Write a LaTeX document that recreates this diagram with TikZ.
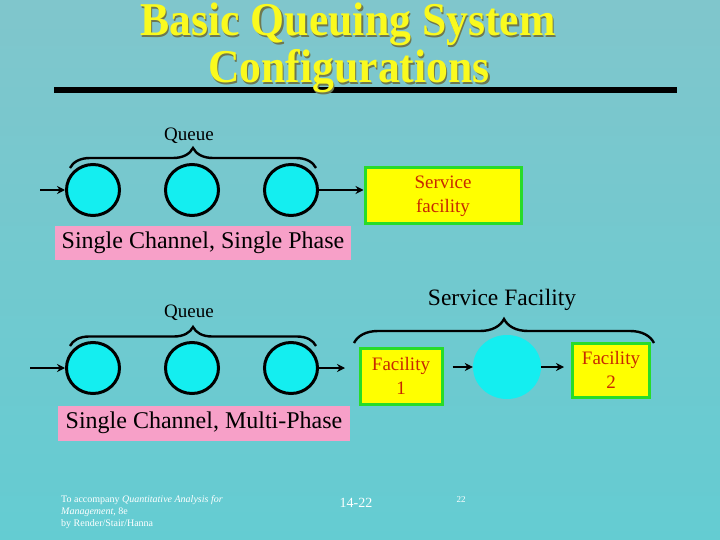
\documentclass[tikz,border=0pt]{standalone}
\usepackage{fontspec}
\setmainfont{Liberation Serif}
\usetikzlibrary{positioning,shapes.geometric,decorations.pathreplacing,arrows.meta}

\definecolor{bgtop}{RGB}{128,198,204}
\definecolor{bgmid}{RGB}{140,214,220}
\definecolor{bgbot}{RGB}{100,204,210}
\definecolor{qcyan}{RGB}{20,238,240}
\definecolor{boxyel}{RGB}{255,255,0}
\definecolor{boxgrn}{RGB}{40,220,40}
\definecolor{facred}{RGB}{200,40,0}
\definecolor{labpink}{RGB}{247,160,200}
\definecolor{titleyel}{RGB}{250,250,30}
\definecolor{titleshd}{RGB}{110,120,80}

\tikzset{
  qcirc/.style={ellipse, draw=black, line width=3pt, fill=qcyan,
    minimum width=53pt, minimum height=51pt, inner sep=0pt},
  facbox/.style={rectangle, draw=boxgrn, line width=3pt, fill=boxyel,
    text=facred, align=center, font=\fontsize{19}{24}\selectfont},
  cfglabel/.style={rectangle, fill=labpink, inner sep=0pt,
    font=\fontsize{24}{24}\selectfont},
  qlabel/.style={font=\fontsize{19}{19}\selectfont},
  titletext/.style={text=titleyel, anchor=base, inner sep=0pt,
    font=\fontsize{47}{47}\bfseries\selectfont},
  flow/.style={->, line width=2.4pt},
  qbrace/.style={decorate, decoration={brace, amplitude=#1}, line width=2.4pt},
}

\begin{document}
\begin{tikzpicture}[x=1pt, y=-1pt, >={Stealth[length=8pt,width=8pt]}]
\useasboundingbox (0,0) rectangle (720,540);
\shade[top color=bgtop, middle color=bgmid, bottom color=bgbot] (0,0) rectangle (720,540);

% title
\fill[black] (54,87) rectangle (677,93);
\node[titletext, text=titleshd] at (349.2,37.2) {\scalebox{0.93}[1]{Basic Queuing System}};
\node[titletext, text=titleshd] at (350.2,84.2) {\scalebox{0.93}[1]{Configurations}};
\node[titletext] (title1) at (348,36) {\scalebox{0.93}[1]{Basic Queuing System}};
\node[titletext] (title2) at (349,83) {\scalebox{0.93}[1]{Configurations}};

% single channel, single phase
\node[qcirc] (q1) at (93,190) {};
\node[qcirc] (q2) at (192,190) {};
\node[qcirc] (q3) at (291,190) {};
\node[facbox, minimum width=156pt, minimum height=56pt] (sf) at (443,196)
  {Service\\facility};
\coordinate (in1) at (40,190);
\draw[flow] (in1) -- (q1);
\draw[flow] (q3) -- (q3 -| sf.west);
\coordinate (b1l) at (70,168);
\coordinate (b1r) at (316,168);
\draw[qbrace=20pt] (b1l) -- (b1r);
\node[qlabel] (queue1) at (189,136) {Queue};
\node[cfglabel, minimum width=296pt, minimum height=33pt] (cfg1) at (203,243)
  {Single Channel, Single Phase};

% single channel, multi-phase
\node[qcirc] (p1) at (93,368) {};
\node[qcirc] (p2) at (192,368) {};
\node[qcirc] (p3) at (291,368) {};
\node[facbox, minimum width=82pt, minimum height=56pt] (f1) at (401,376)
  {Facility\\1};
\node[ellipse, fill=qcyan, minimum width=68pt, minimum height=64pt] (srv) at (507,367) {};
\node[facbox, minimum width=77pt, minimum height=54pt] (f2) at (611,370)
  {Facility\\2};
\coordinate (in2) at (30,368);
\coordinate (out2) at (345,368);
\draw[flow] (in2) -- (p1);
\draw[flow] (p3) -- (out2);
\draw[flow, shorten <=9pt] (f1.east |- srv) -- (srv);
\draw[flow, shorten >=7pt] (srv) -- (srv -| f2.west);
\coordinate (b2l) at (70,346);
\coordinate (b2r) at (316,346);
\draw[qbrace=19pt] (b2l) -- (b2r);
\coordinate (b3l) at (354,343);
\coordinate (b3r) at (654,343);
\draw[qbrace=24pt] (b3l) -- (b3r);
\node[qlabel] (queue2) at (189,313) {Queue};
\node[font=\fontsize{23.5}{23.5}\selectfont] (sfac) at (502,300) {Service Facility};
\node[cfglabel, minimum width=292pt, minimum height=35pt] (cfg2) at (204,423)
  {Single Channel, Multi-Phase};

% footer
\node[text=white, anchor=north west, align=left, inner sep=0pt,
  font=\fontsize{10}{12.3}\selectfont] (foot) at (61,495)
  {To accompany \textit{Quantitative Analysis for}\\
   \textit{Management}, 8e\\ by Render/Stair/Hanna};
\node[text=white, font=\fontsize{14}{14}\selectfont] (pg) at (356,503) {14-22};
\node[text=white, font=\fontsize{9}{9}\selectfont] (num) at (461,500) {22};
\end{tikzpicture}
\end{document}
